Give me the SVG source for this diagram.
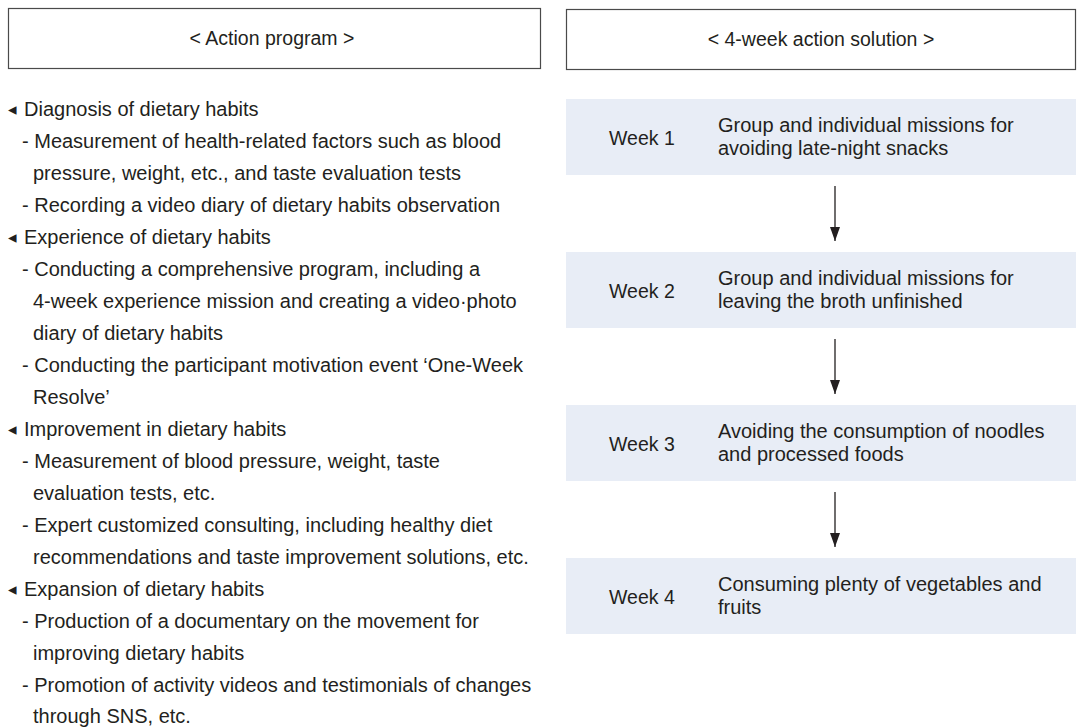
<svg xmlns="http://www.w3.org/2000/svg" width="1086" height="727" viewBox="0 0 1086 727">
  <style>
    .frame { fill: #ffffff; stroke: #4a4a4a; stroke-width: 1.2; }
    .head { font-family: "Liberation Sans", Arial, sans-serif; font-size: 19.5px; fill: #231f20; text-anchor: middle; }
    .body { font-family: "Liberation Sans", Arial, sans-serif; font-size: 20px; fill: #231f20; }
    .bullet { font-family: "DejaVu Sans", sans-serif; font-size: 17px; fill: #231f20; }
    .week { fill: #e8edf6; }
    .wk { font-family: "Liberation Sans", Arial, sans-serif; font-size: 19.5px; fill: #231f20; }
    .desc { font-family: "Liberation Sans", Arial, sans-serif; font-size: 20px; fill: #231f20; }
    .conn { stroke: #231f20; stroke-width: 1.3; fill: none; }
  </style>
  <defs>
    <marker id="arrow" viewBox="0 0 14 10" refX="14" refY="5" markerWidth="14" markerHeight="10" markerUnits="userSpaceOnUse" orient="auto">
      <path d="M0,0 L14,5 L0,10 Z" fill="#231f20"/>
    </marker>
  </defs>
  <rect width="1086" height="727" fill="#ffffff"/>

  <!-- Left column: action program -->
  <g id="action-program-header">
    <rect class="frame" x="8.5" y="8.5" width="532" height="60"/>
    <text class="head" x="272" y="45">&lt; Action program &gt;</text>
  </g>

  <g id="action-program-list">
    <text class="bullet" x="8" y="115">◂</text>
    <text class="body" x="24" y="116">Diagnosis of dietary habits</text>
    <text class="body" x="22" y="148">- Measurement of health-related factors such as blood</text>
    <text class="body" x="33" y="180">pressure, weight, etc., and taste evaluation tests</text>
    <text class="body" x="22" y="212">- Recording a video diary of dietary habits observation</text>
    <text class="bullet" x="8" y="243">◂</text>
    <text class="body" x="24" y="244">Experience of dietary habits</text>
    <text class="body" x="22" y="276">- Conducting a comprehensive program, including a</text>
    <text class="body" x="33" y="308">4-week experience mission and creating a video·photo</text>
    <text class="body" x="33" y="340">diary of dietary habits</text>
    <text class="body" x="22" y="372">- Conducting the participant motivation event ‘One-Week</text>
    <text class="body" x="33" y="404">Resolve’</text>
    <text class="bullet" x="8" y="435">◂</text>
    <text class="body" x="24" y="436">Improvement in dietary habits</text>
    <text class="body" x="22" y="468">- Measurement of blood pressure, weight, taste</text>
    <text class="body" x="33" y="500">evaluation tests, etc.</text>
    <text class="body" x="22" y="532">- Expert customized consulting, including healthy diet</text>
    <text class="body" x="33" y="564">recommendations and taste improvement solutions, etc.</text>
    <text class="bullet" x="8" y="595">◂</text>
    <text class="body" x="24" y="596">Expansion of dietary habits</text>
    <text class="body" x="22" y="628">- Production of a documentary on the movement for</text>
    <text class="body" x="33" y="660">improving dietary habits</text>
    <text class="body" x="22" y="692">- Promotion of activity videos and testimonials of changes</text>
    <text class="body" x="33" y="723">through SNS, etc.</text>
  </g>

  <!-- Right column: 4-week action solution -->
  <g id="solution-header">
    <rect class="frame" x="566.5" y="9.5" width="509" height="60"/>
    <text class="head" x="821" y="46">&lt; 4-week action solution &gt;</text>
  </g>

  <g id="week-1">
    <rect class="week" x="566" y="99" width="510" height="76"/>
    <text class="wk" x="609" y="145">Week 1</text>
    <text class="desc" x="718" y="132">Group and individual missions for</text>
    <text class="desc" x="718" y="155">avoiding late-night snacks</text>
  </g>

  <g id="week-2">
    <rect class="week" x="566" y="252" width="510" height="76"/>
    <text class="wk" x="609" y="298">Week 2</text>
    <text class="desc" x="718" y="285">Group and individual missions for</text>
    <text class="desc" x="718" y="308">leaving the broth unfinished</text>
  </g>

  <g id="week-3">
    <rect class="week" x="566" y="405" width="510" height="76"/>
    <text class="wk" x="609" y="451">Week 3</text>
    <text class="desc" x="718" y="438">Avoiding the consumption of noodles</text>
    <text class="desc" x="718" y="461">and processed foods</text>
  </g>

  <g id="week-4">
    <rect class="week" x="566" y="558" width="510" height="76"/>
    <text class="wk" x="609" y="604">Week 4</text>
    <text class="desc" x="718" y="591">Consuming plenty of vegetables and</text>
    <text class="desc" x="718" y="614">fruits</text>
  </g>

  <g id="connectors">
    <line class="conn" x1="835" y1="186" x2="835" y2="241" marker-end="url(#arrow)"/>
    <line class="conn" x1="835" y1="339" x2="835" y2="394" marker-end="url(#arrow)"/>
    <line class="conn" x1="835" y1="492" x2="835" y2="547" marker-end="url(#arrow)"/>
  </g>
</svg>
